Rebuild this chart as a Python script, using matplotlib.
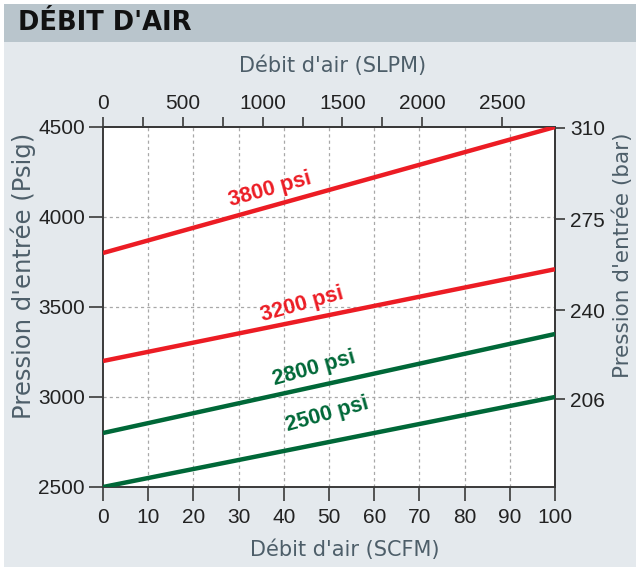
import matplotlib.pyplot as plt
from matplotlib.patches import Rectangle

# Débit d'air data
scfm = [0, 100]
curves = {
    "3800 psi": [3800, 4500],
    "3200 psi": [3200, 3710],
    "2800 psi": [2800, 3350],
    "2500 psi": [2500, 3000],
}
curve_colors = ["#ec1c24", "#ec1c24", "#006838", "#006838"]
label_pos = [(37, 4155), (44, 3515), (46.8, 3158), (49.5, 2900)]

x_ticks = [0, 10, 20, 30, 40, 50, 60, 70, 80, 90, 100]
y_ticks = [2500, 3000, 3500, 4000, 4500]
slpm_ticks = [0, 250, 500, 750, 1000, 1250, 1500, 1750, 2000, 2500]
slpm_labels = ["0", "", "500", "", "1000", "", "1500", "", "2000", "2500"]
bar_ticks = [172, 206, 240, 275, 310]

SLPM_PER_SCFM = 28.3168
PSI_PER_BAR = 14.5038

plt.rcParams["font.family"] = ["Liberation Sans", "DejaVu Sans"]
W, H = 639, 569
fig = plt.figure(figsize=(W / 100, H / 100), dpi=100, facecolor="white")

# background panel and header bar
fig.patches.append(Rectangle((4 / W, 2 / H), 632 / W, 525 / H, transform=fig.transFigure,
                             facecolor="#e4e9ed", edgecolor="none", zorder=-10))
fig.patches.append(Rectangle((4 / W, 527 / H), 632 / W, 38 / H, transform=fig.transFigure,
                             facecolor="#b9c5cc", edgecolor="none", zorder=-10))
fig.text(18 / W, 1 - 23 / H, "DÉBIT D'AIR", fontsize=18.5, fontweight="bold",
         family="DejaVu Sans", color="#111111", va="center", ha="left")

ax = fig.add_axes([103 / W, 1 - 487 / H, 452 / W, 360 / H])
ax.set_facecolor("white")
ax.set_xlim(0, 100)
ax.set_ylim(2500, 4500)

for (name, vals), c, (lx, ly) in zip(curves.items(), curve_colors, label_pos):
    ax.plot(scfm, vals, color=c, linewidth=3.2, solid_capstyle="butt", zorder=3)
    ax.text(lx, ly, name, color=c, fontsize=15.5, fontweight="bold",
            rotation=15.5, ha="center", va="center", rotation_mode="anchor", zorder=4)

grid_kw = dict(color="#a8a8a8", linewidth=0.9, linestyle=(0, (2.5, 2.5)), zorder=1)
for xv in x_ticks[1:-1]:
    ax.axvline(xv, **grid_kw)
for yv in y_ticks[1:-1]:
    ax.axhline(yv, **grid_kw)

tick_col = "#222222"
lab_col = "#4d5e69"
edge = "#3a3a3a"
for sp in ax.spines.values():
    sp.set_color(edge)
    sp.set_linewidth(1.4)

ax.set_xticks(x_ticks)
ax.set_yticks(y_ticks)
ax.tick_params(direction="out", width=1.2, color=edge, labelsize=15, labelcolor=tick_col)
ax.tick_params(axis="x", length=10, pad=5)
ax.tick_params(axis="y", length=10, pad=3)

top = ax.secondary_xaxis("top", functions=(lambda x: x * SLPM_PER_SCFM,
                                           lambda s: s / SLPM_PER_SCFM))
top.set_xticks(slpm_ticks, labels=slpm_labels)
top.tick_params(direction="out", length=7, width=1.2, color=edge,
                labelsize=15, labelcolor=tick_col, pad=3)

right = ax.secondary_yaxis("right", functions=(lambda p: p / PSI_PER_BAR,
                                               lambda b: b * PSI_PER_BAR))
right.set_yticks(bar_ticks)
right.tick_params(direction="out", length=7, width=1.2, color=edge,
                  labelsize=15, labelcolor=tick_col, pad=4)
for sp in list(top.spines.values()) + list(right.spines.values()):
    sp.set_color(edge)
    sp.set_linewidth(1.4)

# axis titles placed as in the original layout
lab_kw = dict(color=lab_col, family="DejaVu Sans")
fig.text(333 / W, 1 - 66 / H, "Débit d'air (SLPM)", fontsize=15,
         ha="center", va="center", **lab_kw)
fig.text(345 / W, 1 - 550 / H, "Débit d'air (SCFM)", fontsize=15,
         ha="center", va="center", **lab_kw)
fig.text(23 / W, 1 - 133 / H, "Pression d'entrée (Psig)", fontsize=17.5,
         rotation=90, ha="center", va="top", **lab_kw)
fig.text(623 / W, 1 - 133 / H, "Pression d'entrée (bar)", fontsize=15.5,
         rotation=90, ha="center", va="top", **lab_kw)

fig.savefig("out.png", dpi=100, facecolor="white")
